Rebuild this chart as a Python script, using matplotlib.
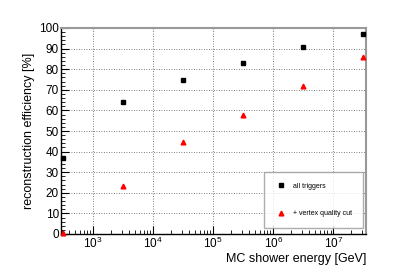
import numpy as np
import matplotlib.pyplot as plt
from matplotlib.ticker import LogLocator, MultipleLocator, NullFormatter

plt.rcParams['font.family'] = ['Liberation Sans', 'DejaVu Sans']

# energies (GeV) and efficiencies (%)
energy = [10**2.5, 10**3.5, 10**4.5, 10**5.5, 10**6.5, 10**7.5]
eff_all = [37, 64, 75, 83, 91, 97]
eff_vertex = [0.5, 23.5, 44.5, 58, 72, 86]

fig = plt.figure(figsize=(4.07, 2.77), dpi=100)
ax = fig.add_axes([61 / 407, 1 - 234 / 277, 305 / 407, 206 / 277])

ax.plot(energy, eff_all, 's', color='black', ms=3.2, label='all triggers', clip_on=False, zorder=5)
ax.plot(energy, eff_vertex, '^', color='red', ms=3.4, label='+ vertex quality cut', clip_on=False, zorder=5)

ax.set_xscale('log')
ax.set_xlim(293, 3.5e7)
ax.set_ylim(0, 100)

ax.yaxis.set_major_locator(MultipleLocator(10))
ax.yaxis.set_minor_locator(MultipleLocator(2))
ax.xaxis.set_major_locator(LogLocator(base=10, numticks=20))
ax.xaxis.set_minor_locator(LogLocator(base=10, subs=np.arange(2, 10), numticks=20))
ax.xaxis.set_minor_formatter(NullFormatter())

ax.tick_params(which='both', direction='in', top=False, right=False, labelsize=8.5, pad=1.5)
ax.tick_params(which='major', length=6, width=0.8)
ax.tick_params(which='minor', length=3, width=0.6)

ax.grid(True, which='major', linestyle=(0, (1, 2)), color='#555555', linewidth=0.6)

for s in ['top', 'right']:
    ax.spines[s].set_color('#999999')
    ax.spines[s].set_linewidth(1.5)
for s in ['left', 'bottom']:
    ax.spines[s].set_linewidth(1.0)

ax.set_ylabel('reconstruction efficiency [%]', fontsize=9, labelpad=3)
ax.set_xlabel('MC shower energy [GeV]', fontsize=9, loc='right', labelpad=1)

leg = ax.legend(loc='lower right', bbox_to_anchor=(0.99, 0.03), fontsize=5, frameon=True,
                fancybox=False, shadow=False, borderpad=1.5, labelspacing=3.0,
                handletextpad=0.8, markerscale=1.0, borderaxespad=0)
leg.get_frame().set_edgecolor('#999999')
leg.get_frame().set_linewidth(1.0)

fig.savefig('out.png', dpi=100)
